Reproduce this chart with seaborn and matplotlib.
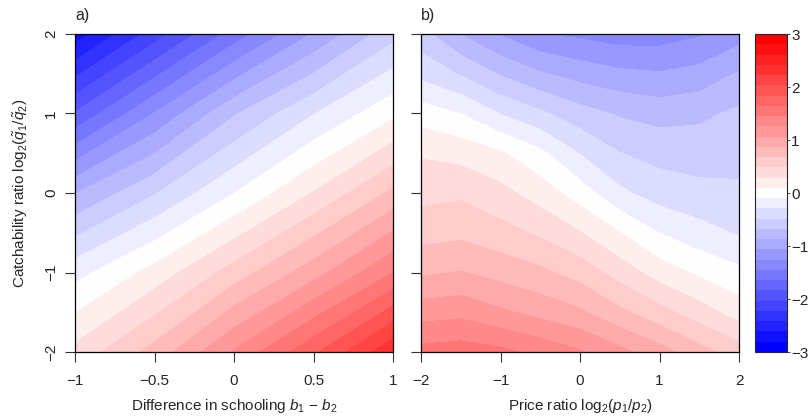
import numpy as np
import matplotlib
matplotlib.use("Agg")
import matplotlib.pyplot as plt
import seaborn as sns

# panel a) difference in schooling (x) vs catchability ratio (y)
schooling_x = [-1.0, -0.5, 0.0, 0.5, 1.0]
catch_y_a = [-2, -1, 0, 1, 2]
# rows follow catch_y_a (bottom -> top), columns follow schooling_x
z_schooling = [
    [0.35, 0.75, 1.28, 1.80, 2.38],
    [-0.17, 0.17, 0.57, 0.98, 1.45],
    [-0.88, -0.50, -0.10, 0.30, 0.72],
    [-1.82, -1.25, -0.70, -0.30, 0.05],
    [-2.72, -2.13, -1.56, -1.05, -0.55],
]

# panel b) price ratio (x) vs catchability ratio (y)
price_x = [-2, -1.5, -1, -0.5, 0, 0.5, 1, 1.5, 2]
catch_y_b = [-2, -1.5, -1, -0.5, 0, 0.5, 1, 1.5, 2]
z_price = [
    [1.52, 1.55, 1.50, 1.40, 1.28, 1.12, 0.95, 0.75, 0.58],
    [1.17, 1.20, 1.10, 1.00, 0.90, 0.72, 0.55, 0.38, 0.20],
    [0.84, 0.88, 0.80, 0.72, 0.60, 0.40, 0.20, 0.06, -0.05],
    [0.60, 0.63, 0.55, 0.45, 0.30, 0.10, -0.10, -0.22, -0.31],
    [0.42, 0.45, 0.35, 0.20, 0.00, -0.25, -0.38, -0.43, -0.45],
    [0.27, 0.22, 0.12, -0.05, -0.30, -0.48, -0.55, -0.57, -0.55],
    [0.00, -0.10, -0.30, -0.45, -0.60, -0.70, -0.75, -0.72, -0.64],
    [-0.35, -0.50, -0.70, -0.85, -0.95, -1.02, -1.05, -1.00, -0.85],
    [-0.60, -0.88, -1.08, -1.24, -1.30, -1.36, -1.35, -1.28, -1.15],
]

key_ticks = [-3, -2, -1, 0, 1, 2, 3]

sns.set_style("ticks")
plt.rcParams['font.family'] = ['Liberation Sans', 'DejaVu Sans']
plt.rcParams['mathtext.fontset'] = 'custom'
plt.rcParams['mathtext.rm'] = 'Liberation Sans'
plt.rcParams['mathtext.it'] = 'Liberation Sans:italic'

FS = 11
levels = np.linspace(-3, 3, 32)
colors = sns.blend_palette(["#0000FF", "#FFFFFF", "#FF0000"], 31)

fig = plt.figure(figsize=(8.08, 4.19), dpi=100)
W, H = 808, 419


def px_axes(x0, y0, x1, y1):
    return fig.add_axes([x0 / W, 1 - y1 / H, (x1 - x0) / W, (y1 - y0) / H])


ax1 = px_axes(75, 34, 393, 352)
ax2 = px_axes(421, 34, 739, 352)
cax = px_axes(755, 34, 787, 352)

cs = ax1.contourf(schooling_x, catch_y_a, np.array(z_schooling), levels=levels, colors=colors)
ax2.contourf(price_x, catch_y_b, np.array(z_price), levels=levels, colors=colors)

for ax in (ax1, ax2):
    ax.set_ylim(-2, 2)
    ax.set_yticks([-2, -1, 0, 1, 2])
    ax.tick_params(axis='both', direction='out', length=7, width=0.8, color='#333333',
                   labelsize=FS)
    ax.tick_params(axis='x', pad=9)
    ax.tick_params(axis='y', labelrotation=90, pad=5)
    for sp in ax.spines.values():
        sp.set_linewidth(0.9)
        sp.set_color('black')

ax1.set_xlim(-1, 1)
ax1.set_xticks([-1, -0.5, 0, 0.5, 1])
ax1.set_xticklabels(['\u22121', '\u22120.5', '0', '0.5', '1'])
ax1.set_yticklabels(['\u22122', '\u22121', '0', '1', '2'], va='center')
ax2.set_xlim(-2, 2)
ax2.set_xticks([-2, -1, 0, 1, 2])
ax2.set_xticklabels(['\u22122', '\u22121', '0', '1', '2'])
ax2.set_yticklabels([])

ax1.set_xlabel('Difference in schooling $b_1$ \u2212 $b_2$', fontsize=FS, labelpad=6)
ax2.set_xlabel('Price ratio log$_2$($p_1/p_2$)', fontsize=FS, labelpad=6)
ax1.set_ylabel(r'Catchability ratio log$_2$($\tilde{q}_1/\tilde{q}_2$)', fontsize=FS, labelpad=10)

ax1.text(0.0, 1.035, 'a)', transform=ax1.transAxes, fontsize=FS + 0.5, ha='left', va='bottom')
ax2.text(0.0, 1.035, 'b)', transform=ax2.transAxes, fontsize=FS + 0.5, ha='left', va='bottom')

cb = fig.colorbar(cs, cax=cax, ticks=key_ticks)
cb.ax.set_yticklabels([str(t).replace('-', '\u2212') for t in key_ticks])
cb.ax.tick_params(length=2, width=0.6, labelsize=FS, pad=1)
cb.outline.set_linewidth(0.8)

fig.savefig('out.png', dpi=100)
